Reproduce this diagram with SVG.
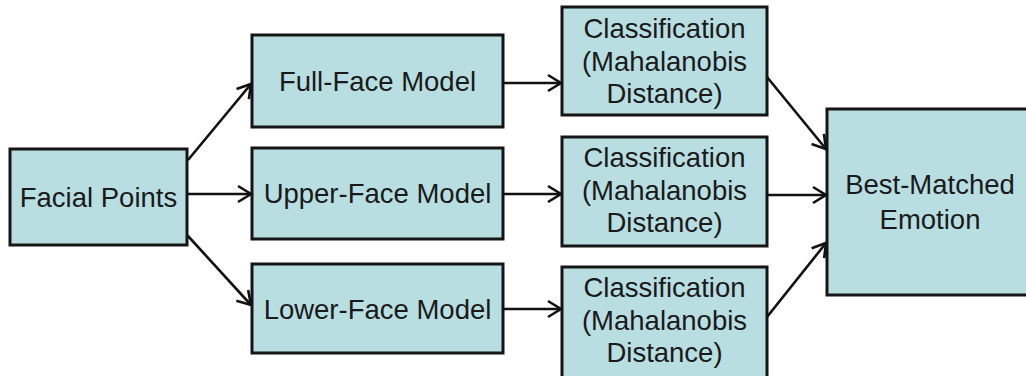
<svg xmlns="http://www.w3.org/2000/svg" width="1026" height="376" viewBox="0 0 1026 376">
<style>
.box{fill:#b8dee2;stroke:#151515;stroke-width:3}
.t{font-family:"Liberation Sans",Arial,sans-serif;font-size:27.5px;fill:#1a1a1a;text-anchor:middle}
.c{fill:none;stroke:#111;stroke-width:2.6;marker-end:url(#arr)}
</style>
<defs>
<marker id="arr" markerUnits="userSpaceOnUse" markerWidth="20" markerHeight="20" viewBox="-14 -10 16 20" refX="0" refY="0" orient="auto">
<path d="M-13,-8 L0,0 L-13,8" fill="none" stroke="#111" stroke-width="2.6"/>
</marker>
</defs>
<rect width="1026" height="376" fill="#ffffff"/>
<g id="facial-points"><rect class="box" x="10" y="149" width="177" height="96"/><text class="t" x="98.5" y="207">Facial Points</text></g>
<g id="full-face"><rect class="box" x="252" y="35" width="251" height="92"/><text class="t" x="377.5" y="91">Full-Face Model</text></g>
<g id="upper-face"><rect class="box" x="252" y="148" width="251" height="91"/><text class="t" x="377.5" y="203">Upper-Face Model</text></g>
<g id="lower-face"><rect class="box" x="252" y="264" width="251" height="89"/><text class="t" x="377.5" y="319">Lower-Face Model</text></g>
<g id="class1"><rect class="box" x="562" y="7" width="205" height="108"/><text class="t" x="664.5" y="38">Classification</text><text class="t" x="664.5" y="70.5">(Mahalanobis</text><text class="t" x="664.5" y="103">Distance)</text></g>
<g id="class2"><rect class="box" x="562" y="137" width="205" height="109"/><text class="t" x="664.5" y="167">Classification</text><text class="t" x="664.5" y="199.5">(Mahalanobis</text><text class="t" x="664.5" y="232">Distance)</text></g>
<g id="class3"><rect class="box" x="562" y="267" width="205" height="112"/><text class="t" x="664.5" y="297">Classification</text><text class="t" x="664.5" y="329.5">(Mahalanobis</text><text class="t" x="664.5" y="362">Distance)</text></g>
<g id="best"><rect class="box" x="827" y="109" width="205" height="186"/><text class="t" x="930" y="194">Best-Matched</text><text class="t" x="930" y="229">Emotion</text></g>
<g id="connectors">
<line class="c" x1="188" y1="160" x2="251" y2="84"/>
<line class="c" x1="187" y1="194" x2="251" y2="194"/>
<line class="c" x1="188" y1="236" x2="251" y2="305"/>
<line class="c" x1="503" y1="83" x2="561" y2="83"/>
<line class="c" x1="503" y1="194" x2="561" y2="194"/>
<line class="c" x1="503" y1="309" x2="561" y2="309"/>
<line class="c" x1="767" y1="77" x2="826" y2="149"/>
<line class="c" x1="767" y1="195" x2="826" y2="195"/>
<line class="c" x1="767" y1="317" x2="826" y2="243"/>
</g>
</svg>
